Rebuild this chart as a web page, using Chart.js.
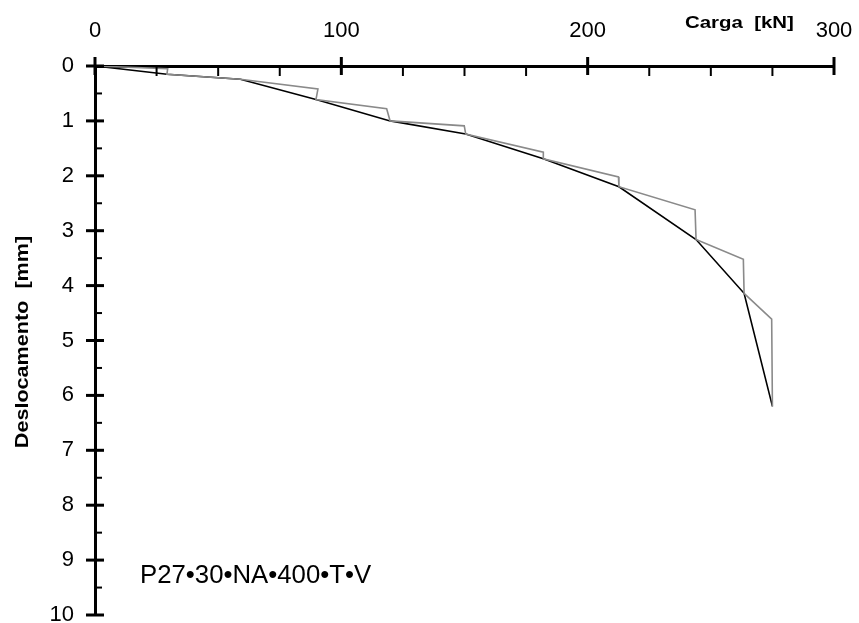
<!DOCTYPE html>
<html>
<head>
<meta charset="utf-8">
<script src="https://cdn.jsdelivr.net/npm/chart.js@4/dist/chart.umd.min.js"></script>
<style>
  html, body { margin: 0; padding: 0; background: #fff; }
  #wrap { width: 859px; height: 623px; }
</style>
</head>
<body>
<div id="wrap"><canvas id="c" width="859" height="623"></canvas></div>
<script>
// Load test (with creep steps) - load [kN]
const testLoad = [0, 29.5, 29.2, 59, 90.5, 89.7, 118.4, 119.8, 149.9, 150.5, 182, 182, 212.5, 212.7, 243.6, 244, 263.2, 263.5, 274.7, 275];
// Load test - displacement [mm]
const testDisp = [0, 0.05, 0.15, 0.24, 0.42, 0.61, 0.78, 1.0, 1.09, 1.24, 1.57, 1.69, 2.02, 2.2, 2.62, 3.16, 3.52, 4.14, 4.61, 6.2];
// Envelope (end of each stage)
const envLoad = [0, 29.2, 59, 89.7, 119.8, 150.5, 182, 212.7, 244, 263.5, 275];
const envDisp = [0, 0.15, 0.24, 0.61, 1.0, 1.24, 1.69, 2.2, 3.16, 4.14, 6.2];
// Axis settings
const xTicks = [0, 100, 200, 300];
const yTicks = [0, 1, 2, 3, 4, 5, 6, 7, 8, 9, 10];
const xTitle = 'Carga  [kN]';
const yTitle = 'Deslocamento  [mm]';
const label = 'P27\u202230\u2022NA\u2022400\u2022T\u2022V';

const toPts = (xs, ys) => xs.map((x, i) => ({ x: x, y: ys[i] }));

const FONT = '"Liberation Sans", Arial, sans-serif';

const decor = {
  id: 'decor',
  afterDraw(chart) {
    const ctx = chart.ctx;
    const xs = chart.scales.x, ys = chart.scales.y;
    const ca = chart.chartArea;
    ctx.save();
    ctx.strokeStyle = '#000';
    // x ticks
    const x0 = ca.top;
    for (let v = 0; v <= 300; v += 25) {
      const px = xs.getPixelForValue(v);
      ctx.beginPath();
      if (v % 100 === 0) { ctx.lineWidth = 3; ctx.moveTo(px, x0 - 9); ctx.lineTo(px, x0 + 9); }
      else { ctx.lineWidth = 2; ctx.moveTo(px, x0); ctx.lineTo(px, x0 + 10); }
      ctx.stroke();
    }
    // y ticks
    const y0 = ca.left;
    for (let i = 0; i <= 20; i++) {
      const v = i / 2;
      const py = ys.getPixelForValue(v);
      ctx.beginPath();
      if (i % 2 === 0) { ctx.lineWidth = 3; ctx.moveTo(y0 - 9, py); ctx.lineTo(y0 + 9, py); }
      else { ctx.lineWidth = 2; ctx.moveTo(y0, py); ctx.lineTo(y0 + 7, py); }
      ctx.stroke();
    }
    ctx.fillStyle = '#000';
    // x title
    ctx.save();
    ctx.font = 'bold 17px ' + FONT;
    ctx.textBaseline = 'alphabetic';
    ctx.textAlign = 'left';
    ctx.translate(685, 28);
    ctx.scale(1.2, 1);
    ctx.fillText(xTitle, 0, 0);
    ctx.restore();
    // y title
    ctx.save();
    ctx.font = 'bold 18px ' + FONT;
    ctx.textBaseline = 'middle';
    ctx.textAlign = 'center';
    ctx.translate(23, 342);
    ctx.rotate(-Math.PI / 2);
    ctx.scale(1.2, 1);
    ctx.fillText(yTitle, 0, 0);
    ctx.restore();
    // annotation
    ctx.save();
    ctx.font = '25px ' + FONT;
    ctx.textBaseline = 'alphabetic';
    ctx.textAlign = 'left';
    ctx.translate(ca.left + 45, ca.bottom - 32);
    ctx.scale(1.03, 1);
    ctx.fillText(label, 0, 0);
    ctx.restore();
    ctx.restore();
  }
};

new Chart(document.getElementById('c'), {
  type: 'scatter',
  data: {
    datasets: [
      {
        label: 'Envelope',
        data: toPts(envLoad, envDisp),
        showLine: true,
        borderColor: '#000',
        borderWidth: 1.6,
        pointRadius: 0,
        fill: false,
        tension: 0,
        order: 2
      },
      {
        label: 'Ensaio',
        data: toPts(testLoad, testDisp),
        showLine: true,
        borderColor: '#8a8a8a',
        borderWidth: 1.6,
        pointRadius: 0,
        fill: false,
        tension: 0,
        order: 1
      }
    ]
  },
  options: {
    responsive: false,
    animation: false,
    devicePixelRatio: 1,
    layout: { padding: { left: 51, top: 19, right: 25, bottom: 8 } },
    plugins: { legend: { display: false }, tooltip: { enabled: false } },
    scales: {
      x: {
        type: 'linear',
        position: 'top',
        min: 0, max: 300,
        afterBuildTicks: (s) => { s.ticks = xTicks.map(v => ({ value: v })); },
        afterFit: (s) => { s.height = 47; s.paddingLeft = 0; s.paddingRight = 0; },
        ticks: { color: '#000', font: { family: FONT, size: 22 }, padding: 22, maxRotation: 0 },
        grid: { display: false, drawTicks: false },
        border: { display: true, color: '#000', width: 3 }
      },
      y: {
        type: 'linear',
        reverse: true,
        min: 0, max: 10,
        afterBuildTicks: (s) => { s.ticks = yTicks.map(v => ({ value: v })); },
        afterFit: (s) => { s.width = 44; s.paddingTop = 0; s.paddingBottom = 0; },
        ticks: { color: '#000', font: { family: FONT, size: 22 }, padding: 21 },
        grid: { display: false, drawTicks: false },
        border: { display: true, color: '#000', width: 3 }
      }
    }
  },
  plugins: [decor]
});
</script>
</body>
</html>
